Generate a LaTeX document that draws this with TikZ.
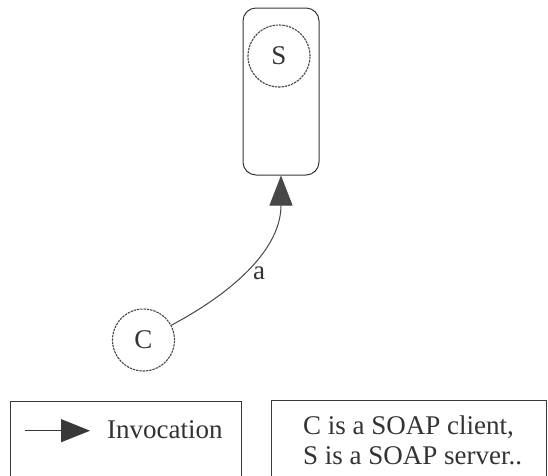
\documentclass[tikz,border=0pt]{standalone}
\usepackage{fontspec}
\setmainfont{Liberation Serif}
\usetikzlibrary{arrows.meta}

\begin{document}
\begin{tikzpicture}[x=1pt,y=-1pt,
  ink/.style={draw=black!78, line width=1pt},
  lbl/.style={text=black!80, font=\fontsize{27}{30}\selectfont, inner sep=0pt},
  role/.style={draw=black!72, line width=1.1pt, dash pattern=on 2.4pt off 0.9pt,
               circle, minimum size=62pt, inner sep=0pt, lbl},
  host/.style={ink, rounded corners=13pt, minimum width=76pt, minimum height=167pt, inner sep=0pt},
  invoc/.style={draw=black!72, line width=1pt,
                -{Triangle[length=30pt,width=23pt]}},
  legbox/.style={ink}
]
  % canvas
  \useasboundingbox[fill=white] (0,0) rectangle (548,475);
  \clip (0,0) rectangle (548,475);

  % server host with its SOAP server
  \node[host] (srv) at (281,91.5) {};
  \node[role] (s) at (279,56) {S};

  % SOAP client
  \node[role] (c) at (143.5,340) {C};

  % invocation a
  \draw[invoc] (c.28) to[out=28,in=-90] (srv.south);
  \node[lbl] (la) at (259,273) {a};

  % legend: connector kinds
  \node[legbox, minimum width=231pt, minimum height=90pt, anchor=north west, inner sep=0pt] (keybox) at (10,401) {};
  \coordinate (keyfrom) at (25,430.7);
  \coordinate (keyto) at (90,430.7);
  \draw[draw=black!78, line width=1pt, -{Triangle[length=29pt,width=23pt]}] (keyfrom) -- (keyto);
  \node[lbl, anchor=base west] (keytxt) at (107,438) {Invocation};

  % legend: notes
  \node[legbox, minimum width=275pt, minimum height=90pt, anchor=north west, inner sep=0pt] (notebox) at (271,400) {};
  \node[lbl, anchor=base west] (note1) at (303,434) {C is a SOAP client,};
  \node[lbl, anchor=base west] (note2) at (303,464) {S is a SOAP server..};
\end{tikzpicture}
\end{document}
